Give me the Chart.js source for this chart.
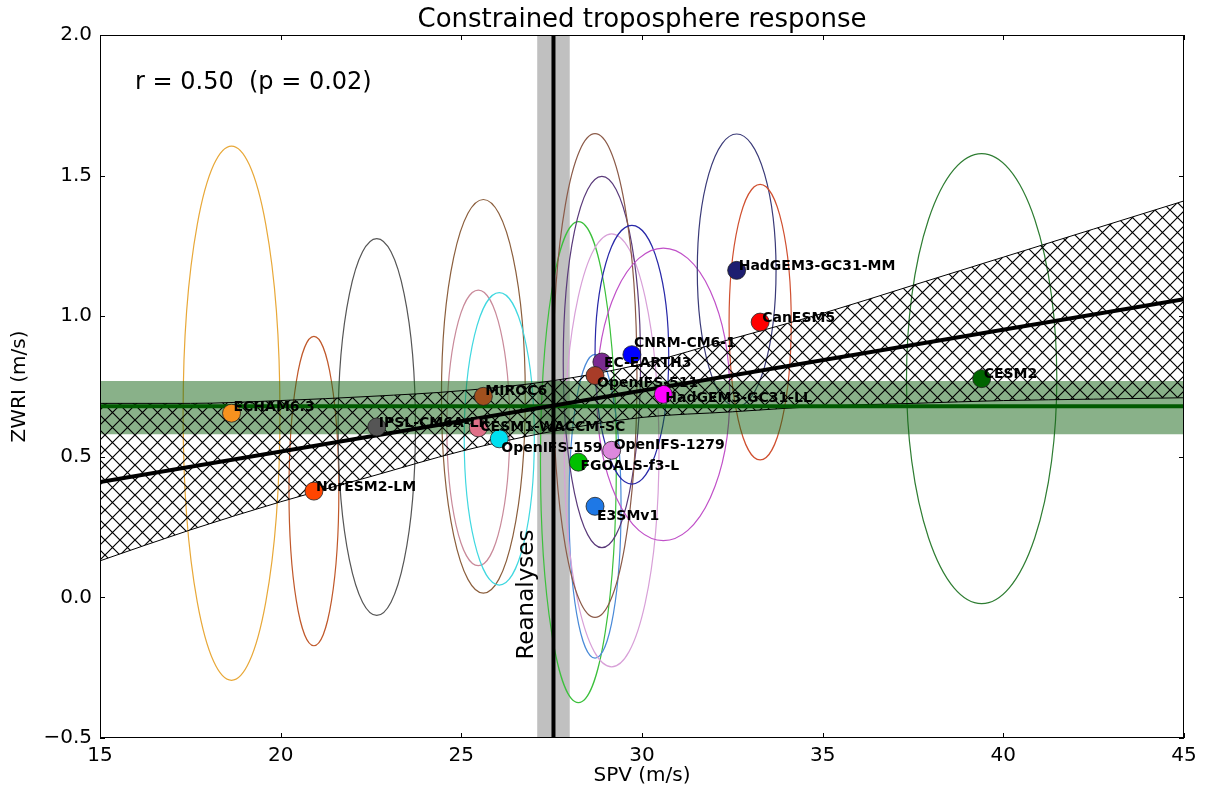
<!DOCTYPE html>
<html>
<head>
<meta charset="utf-8">
<script src="https://cdn.jsdelivr.net/npm/chart.js@4.4.1/dist/chart.umd.min.js"></script>
<style>
  html, body { margin: 0; padding: 0; background: #fff; }
  #wrap { width: 1205px; height: 794px; }
</style>
</head>
<body>
<div id="wrap"><canvas id="myChart" width="1205" height="794"></canvas></div>
<script>
// models (SPV vs ZWRI), with spread of each model as ellipse half-axes
const models = ["ECHAM6.3", "NorESM2-LM", "IPSL-CM6A-LR", "MIROC6", "CESM1-WACCM-SC", "OpenIFS-159",
  "FGOALS-f3-L", "E3SMv1", "OpenIFS-1279", "EC-EARTH3", "OpenIFS-511", "CNRM-CM6-1",
  "HadGEM3-GC31-LL", "HadGEM3-GC31-MM", "CanESM5", "CESM2"];
const spv = [18.64, 20.92, 22.66, 25.61, 25.47, 26.05, 28.24, 28.70, 29.16, 28.89, 28.70, 29.72, 30.59, 32.62, 33.27, 39.40];
const zwri = [0.655, 0.378, 0.606, 0.715, 0.603, 0.564, 0.481, 0.324, 0.523, 0.837, 0.789, 0.863, 0.722, 1.163, 0.979, 0.778];
const spvSpread = [1.34, 0.69, 1.07, 1.16, 0.87, 0.97, 1.05, 0.72, 1.31, 1.07, 1.16, 1.02, 1.84, 1.09, 0.86, 2.08];
const zwriSpread = [0.95, 0.55, 0.67, 0.70, 0.49, 0.52, 0.855, 0.54, 0.77, 0.66, 0.86, 0.46, 0.52, 0.485, 0.49, 0.80];
const dotColors = ["#f7921e", "#ff4500", "#555555", "#a0501e", "#e07088", "#00e0f0", "#00c000", "#1e78e6",
  "#dd88dd", "#7a2a90", "#a83c28", "#0000ff", "#ff00ff", "#1e1e70", "#ff0000", "#006400"];
const ringColors = ["#e8a838", "#c0582a", "#555555", "#8b5e3c", "#c98a9a", "#40d8e0", "#3cc03c", "#4a8ad8",
  "#d8a0d8", "#5a3a7a", "#8b5a48", "#2828a8", "#c050c8", "#3a3a78", "#d05030", "#2e7d32"];
// label nudges in pixels (baseline below point centre)
const labelDy = [-2, 0, 0, -1, 3, 13, 8, 14, -1, 5, 11, -8, 8, 0, 0, -1];

// regression line and its confidence band
const fitX = [15, 45];
const fitY = [0.41, 1.06];
const bandX = [15, 17.5, 20, 22.5, 25, 27.5, 30, 32.5, 35, 37.5, 40, 42.5, 45];
const bandUpper = [0.69, 0.69, 0.70, 0.715, 0.735, 0.77, 0.83, 0.92, 1.01, 1.11, 1.21, 1.31, 1.41];
const bandLower = [0.13, 0.24, 0.34, 0.43, 0.52, 0.59, 0.64, 0.66, 0.68, 0.69, 0.70, 0.705, 0.71];

// observed constraint
const obsZwri = 0.68, obsLow = 0.58, obsHigh = 0.77;
const reanSpv = 27.55, reanLow = 27.1, reanHigh = 28.0;

Chart.defaults.font.family = "'DejaVu Sans', sans-serif";
Chart.defaults.color = "#000";

function makeHatch() {
  const c = document.createElement("canvas");
  c.width = 15; c.height = 15;
  const g = c.getContext("2d");
  g.strokeStyle = "#000";
  g.lineWidth = 1.2;
  g.beginPath();
  g.moveTo(-1, -1); g.lineTo(16, 16);
  g.moveTo(16, -1); g.lineTo(-1, 16);
  g.stroke();
  return g.createPattern(c, "repeat");
}

const decor = {
  id: "decor",
  beforeDatasetsDraw(chart) {
    const { ctx, chartArea: a, scales: { x, y } } = chart;
    ctx.save();
    ctx.beginPath();
    ctx.rect(a.left, a.top, a.right - a.left, a.bottom - a.top);
    ctx.clip();
    const l = x.getPixelForValue(reanLow), r = x.getPixelForValue(reanHigh);
    ctx.fillStyle = "#c0c0c0";
    ctx.fillRect(l, a.top, r - l, a.bottom - a.top);
    ctx.lineWidth = 1.2;
    models.forEach(function (m, i) {
      const cx = x.getPixelForValue(spv[i]);
      const cy = y.getPixelForValue(zwri[i]);
      const rx = x.getPixelForValue(spv[i] + spvSpread[i]) - cx;
      const ry = cy - y.getPixelForValue(zwri[i] + zwriSpread[i]);
      ctx.strokeStyle = ringColors[i];
      ctx.beginPath();
      ctx.ellipse(cx, cy, rx, ry, 0, 0, Math.PI * 2);
      ctx.stroke();
    });
    ctx.restore();
  },
  afterDatasetsDraw(chart) {
    const { ctx, chartArea: a, scales: { x, y } } = chart;
    ctx.save();
    // model names
    ctx.font = "bold 14px 'DejaVu Sans'";
    ctx.fillStyle = "#000";
    ctx.textAlign = "left";
    ctx.textBaseline = "alphabetic";
    models.forEach(function (m, i) {
      ctx.fillText(m, x.getPixelForValue(spv[i]) + 2, y.getPixelForValue(zwri[i]) + labelDy[i]);
    });
    // reanalyses text
    ctx.save();
    ctx.translate(x.getPixelForValue(reanLow) - 4, y.getPixelForValue(0.01));
    ctx.rotate(-Math.PI / 2);
    ctx.font = "23px 'DejaVu Sans'";
    ctx.textAlign = "center";
    ctx.fillText("Reanalyses", 0, 0);
    ctx.restore();
    // correlation
    ctx.font = "24px 'DejaVu Sans'";
    ctx.textBaseline = "middle";
    ctx.fillText("r = 0.50  (p = 0.02)", a.left + 35, a.top + 48);
    ctx.restore();
  },
  afterDraw(chart) {
    const { ctx, chartArea: a, scales: { x, y } } = chart;
    ctx.save();
    ctx.strokeStyle = "#000";
    ctx.lineWidth = 1;
    ctx.strokeRect(a.left + 0.5, a.top + 0.5, a.right - a.left - 1, a.bottom - a.top - 1);
    ctx.beginPath();
    x.ticks.forEach(function (t) {
      const px = Math.round(x.getPixelForValue(t.value)) + 0.5;
      ctx.moveTo(px, a.bottom); ctx.lineTo(px, a.bottom - 5);
      ctx.moveTo(px, a.top); ctx.lineTo(px, a.top + 5);
    });
    y.ticks.forEach(function (t) {
      const py = Math.round(y.getPixelForValue(t.value)) + 0.5;
      ctx.moveTo(a.left, py); ctx.lineTo(a.left + 5, py);
      ctx.moveTo(a.right, py); ctx.lineTo(a.right - 5, py);
    });
    ctx.stroke();
    // title over the plot area
    ctx.fillStyle = "#000";
    ctx.font = "26px 'DejaVu Sans'";
    ctx.textAlign = "center";
    ctx.textBaseline = "middle";
    ctx.fillText("Constrained troposphere response", (a.left + a.right) / 2, a.top - 15);
    ctx.restore();
  }
};

const hatch = makeHatch();
const line = function (xs, ys) { return xs.map(function (v, i) { return { x: v, y: ys[i] }; }); };

const ctx = document.querySelector("#myChart");
const chart = new Chart(ctx, {
  type: "scatter",
  data: {
    datasets: [
      {
        data: line(spv, zwri),
        pointRadius: 9,
        pointBackgroundColor: dotColors,
        pointBorderColor: "#222",
        pointBorderWidth: 0.8,
        order: 0,
      },
      {
        data: line([reanSpv, reanSpv], [-0.5, 2.0]),
        showLine: true, borderColor: "#000", borderWidth: 4, pointRadius: 0, order: 1,
      },
      {
        data: line(fitX, fitY),
        showLine: true, borderColor: "#000", borderWidth: 4, pointRadius: 0, order: 1,
      },
      {
        data: line(fitX, [obsZwri, obsZwri]),
        showLine: true, borderColor: "#005a00", borderWidth: 4, pointRadius: 0, order: 2,
      },
      {
        data: line(bandX, bandUpper),
        showLine: true, borderColor: "#000", borderWidth: 1, pointRadius: 0,
        cubicInterpolationMode: "monotone", fill: "+1", backgroundColor: hatch, order: 3,
      },
      {
        data: line(bandX, bandLower),
        showLine: true, borderColor: "#000", borderWidth: 1, pointRadius: 0,
        cubicInterpolationMode: "monotone", order: 3,
      },
      {
        data: line(fitX, [obsHigh, obsHigh]),
        showLine: true, borderWidth: 0, pointRadius: 0,
        fill: "+1", backgroundColor: "rgba(20,100,20,0.5)", order: 4,
      },
      {
        data: line(fitX, [obsLow, obsLow]),
        showLine: true, borderWidth: 0, pointRadius: 0, order: 4,
      },
    ],
  },
  options: {
    responsive: false,
    animation: false,
    devicePixelRatio: 1,
    layout: { padding: { left: 0, right: 21, top: 35, bottom: 0 } },
    plugins: {
      legend: { display: false },
      tooltip: { enabled: false },
      title: { display: false },
    },
    scales: {
      x: {
        type: "linear", min: 15, max: 45,
        ticks: { stepSize: 5, font: { size: 20 }, padding: 6, maxRotation: 0 },
        grid: { display: false, drawTicks: false },
        border: { display: false },
        title: { display: true, text: "SPV (m/s)", font: { size: 20 }, padding: { top: 0, bottom: 6 } },
        afterFit: function (s) { s.height = 56; },
      },
      y: {
        type: "linear", min: -0.5, max: 2.0,
        ticks: {
          stepSize: 0.5, font: { size: 20 }, padding: 8,
          callback: function (v) { return v.toFixed(1).replace("-", "\u2212"); },
        },
        grid: { display: false, drawTicks: false },
        border: { display: false },
        title: { display: true, text: "ZWRI (m/s)", font: { size: 20 }, padding: { top: 8, bottom: 0 } },
        afterFit: function (s) { s.width = 100; },
      },
    },
  },
  plugins: [decor],
});
</script>
</body>
</html>
